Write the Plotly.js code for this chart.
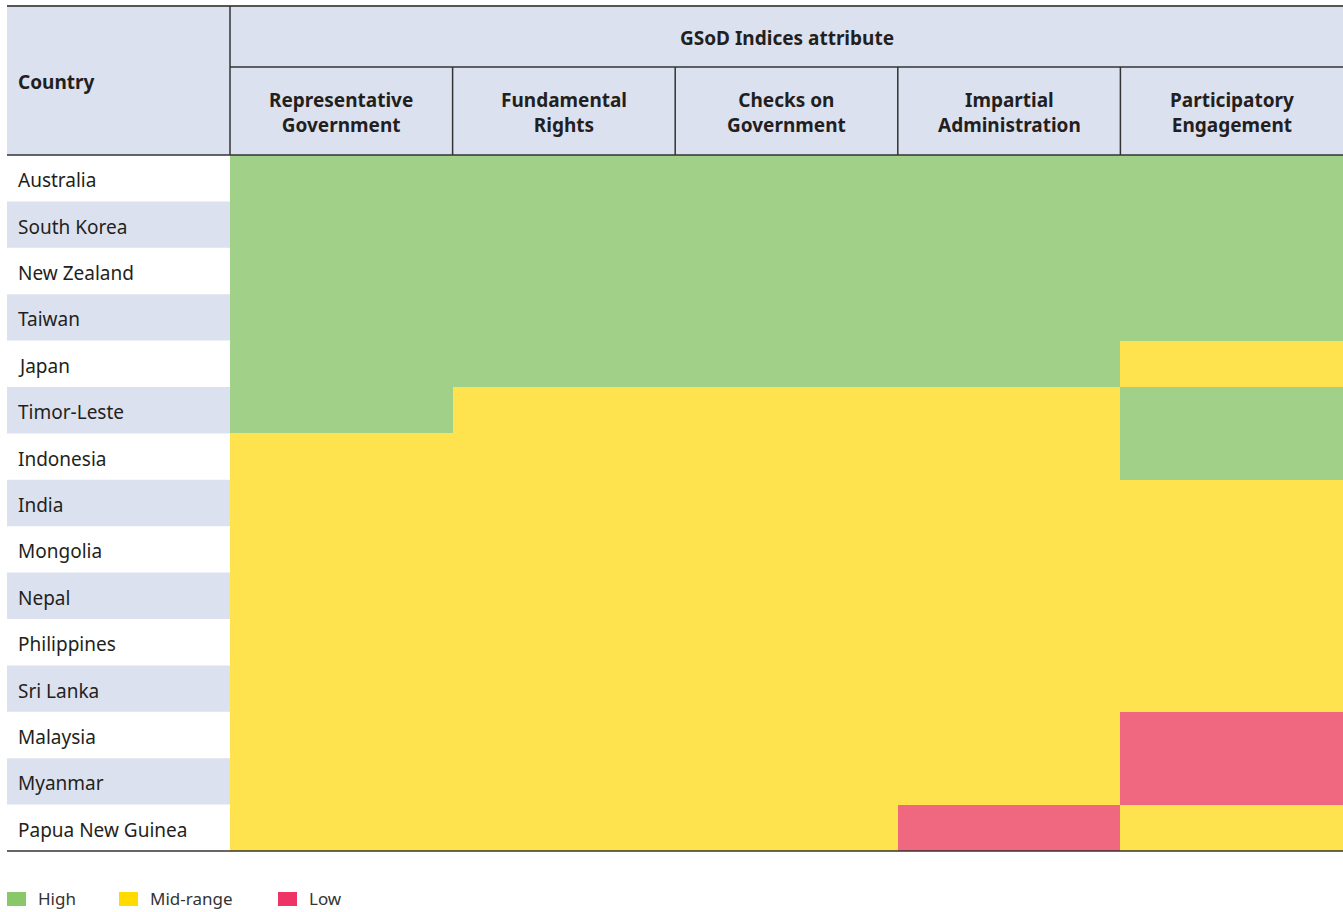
<!DOCTYPE html>
<html>
<head>
<meta charset="utf-8">
<script src="https://cdn.plot.ly/plotly-3.0.1.min.js"></script>
<style>html,body{margin:0;padding:0;background:#fff;}#chart{width:1343px;height:912px;}</style>
</head>
<body>
<div id="chart"></div>
<script>
const countries = ["Australia","South Korea","New Zealand","Taiwan","Japan","Timor-Leste","Indonesia","India","Mongolia","Nepal","Philippines","Sri Lanka","Malaysia","Myanmar","Papua New Guinea"];
const attributes = ["Representative<br>Government","Fundamental<br>Rights","Checks on<br>Government","Impartial<br>Administration","Participatory<br>Engagement"];
const headerTitle = "GSoD Indices attribute";
const rowHeader = "Country";
// 2 = High, 1 = Mid-range, 0 = Low
const ratings = [
  [2,2,2,2,2],
  [2,2,2,2,2],
  [2,2,2,2,2],
  [2,2,2,2,2],
  [2,2,2,2,1],
  [2,1,1,1,2],
  [1,1,1,1,2],
  [1,1,1,1,1],
  [1,1,1,1,1],
  [1,1,1,1,1],
  [1,1,1,1,1],
  [1,1,1,1,1],
  [1,1,1,1,0],
  [1,1,1,1,0],
  [1,1,1,0,1]
];
const legendLabels = ["High","Mid-range","Low"];
const cellColors = ["#F0687F","#FFE34E","#A1D188"]; // low, mid, high
const legendColors = ["#88C76A","#FFDB00","#EE3366"];

(function(){
const W = 1343, H = 912;
const mL = 230, mR = 0, mT = 155, mB = 61;
const pw = W - mL - mR, ph = H - mT - mB;
const px2x = p => (p - mL) / pw;
const py2y = p => (H - mB - p) / ph;

const FONT = "'Noto Sans', 'Open Sans', sans-serif";
const dark = "#231F20";
const headerBg = "#DCE1EF";
const lineCol = "#333333";

const trace = {
  type: "heatmap",
  x: attributes,
  y: countries,
  z: ratings,
  zmin: 0, zmax: 2,
  colorscale: [[0, cellColors[0]],[0.3333, cellColors[0]],[0.3334, cellColors[1]],[0.6666, cellColors[1]],[0.6667, cellColors[2]],[1, cellColors[2]]],
  showscale: false,
  hoverinfo: "x+y"
};

const shapes = [];
const annotations = [];
const yTop = py2y(6), yMid = py2y(67), xLeft = px2x(7);

shapes.push({type:"rect", xref:"paper", yref:"paper", x0:xLeft, x1:1, y0:1, y1:yTop, fillcolor:headerBg, line:{width:0}, layer:"below"});
countries.forEach((c, i) => {
  if (i % 2 === 1) {
    shapes.push({type:"rect", xref:"paper", yref:"y", x0:xLeft, x1:0, y0:i-0.5, y1:i+0.5, fillcolor:headerBg, line:{width:0}, layer:"below"});
  }
  annotations.push({xref:"paper", yref:"y", x:px2x(16), y:c, yshift:-2, text:c, showarrow:false, xanchor:"left", yanchor:"middle",
    font:{family:FONT, size:19, color:dark}});
});
shapes.push({type:"line", xref:"paper", yref:"paper", x0:xLeft, x1:1, y0:yTop, y1:yTop, line:{color:"#555", width:2}});
shapes.push({type:"line", xref:"paper", yref:"paper", x0:0, x1:1, y0:yMid, y1:yMid, line:{color:lineCol, width:1.5}});
shapes.push({type:"line", xref:"paper", yref:"paper", x0:xLeft, x1:1, y0:1, y1:1, line:{color:lineCol, width:1.5}});
shapes.push({type:"line", xref:"paper", yref:"paper", x0:xLeft, x1:1, y0:0, y1:0, line:{color:lineCol, width:1.5}});
shapes.push({type:"line", xref:"paper", yref:"paper", x0:0, x1:0, y0:1, y1:yTop, line:{color:lineCol, width:1.5}});
attributes.forEach((a, j) => {
  if (j > 0) shapes.push({type:"line", xref:"x", yref:"paper", x0:j-0.5, x1:j-0.5, y0:1, y1:yMid, line:{color:lineCol, width:1.5}});
  annotations.push({xref:"x", yref:"paper", x:a, y:(1+yMid)/2, yshift:-1, text:"<b>"+a+"</b>", showarrow:false, xanchor:"center", yanchor:"middle",
    font:{family:FONT, size:19, color:dark}});
});
annotations.push({xref:"paper", yref:"paper", x:0.5, y:(yMid+yTop)/2, yshift:-2, text:"<b>"+headerTitle+"</b>", showarrow:false, xanchor:"center", yanchor:"middle",
  font:{family:FONT, size:19, color:dark}});
annotations.push({xref:"paper", yref:"paper", x:px2x(16), y:py2y(82), text:"<b>"+rowHeader+"</b>", showarrow:false, xanchor:"left", yanchor:"middle",
  font:{family:FONT, size:19, color:dark}});

const legX = [7, 119, 278];
legendLabels.forEach((l, k) => {
  shapes.push({type:"rect", xref:"paper", yref:"paper", x0:px2x(legX[k]), x1:px2x(legX[k]+19), y0:py2y(892), y1:py2y(906), fillcolor:legendColors[k], line:{width:0}});
  annotations.push({xref:"paper", yref:"paper", x:px2x(legX[k]+29), y:py2y(899), text:l, showarrow:false, xanchor:"left", yanchor:"middle",
    font:{family:FONT, size:17, color:"#333"}});
});

const layout = {
  width: W, height: H,
  margin: {l:mL, r:mR, t:mT, b:mB, pad:0},
  paper_bgcolor: "#fff", plot_bgcolor: "#fff",
  xaxis: {showticklabels:false, showgrid:false, zeroline:false, ticks:"", fixedrange:true},
  yaxis: {showticklabels:false, showgrid:false, zeroline:false, ticks:"", autorange:"reversed", fixedrange:true},
  shapes: shapes,
  annotations: annotations,
  showlegend: false
};

Plotly.newPlot("chart", [trace], layout, {displayModeBar:false, staticPlot:true});
})();
</script>
</body>
</html>
